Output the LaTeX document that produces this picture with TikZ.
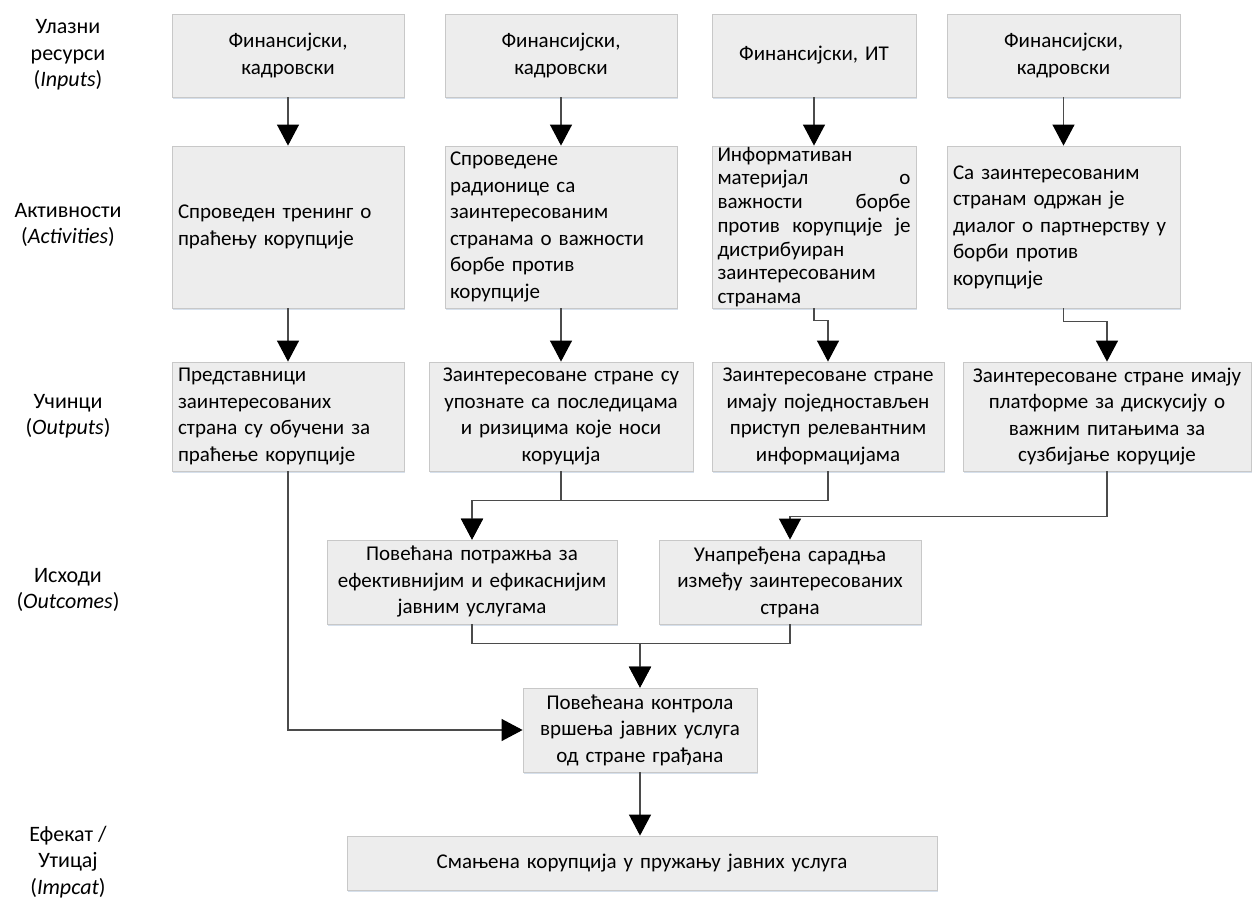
\documentclass[tikz,border=0pt]{standalone}
\usepackage{fontspec}
\setmainfont{Carlito}
\usetikzlibrary{arrows.meta,shadows}
\definecolor{boxfill}{RGB}{237,237,237}
\definecolor{boxline}{RGB}{200,200,200}
\definecolor{shadowcol}{RGB}{214,224,236}
\definecolor{conn}{RGB}{75,75,75}
\newcommand\bodyfont{\fontsize{21}{26.5}\selectfont}
\newcommand\labelfont{\fontsize{22}{26.5}\selectfont}
\newcommand\tightfont{\fontsize{21}{23.7}\selectfont}
\tikzset{
  box/.style={draw=boxline, fill=boxfill, line width=0.8pt, inner xsep=6pt, inner ysep=0pt,
    font=\bodyfont, drop shadow={shadow xshift=0.6pt, shadow yshift=-1.6pt, fill=shadowcol, opacity=1}},
  lbl/.style={align=center, font=\labelfont, inner sep=0pt},
  conn/.style={draw=conn, line width=1.1pt, -{Triangle[length=21pt,width=22pt,black]}},
}
\begin{document}
\begin{tikzpicture}[x=1pt,y=-1pt]
\useasboundingbox (0,0) rectangle (1254,902);

% row labels
\node[lbl] (l1) at (68,55) {Улазни\\ресурси\\(\textit{Inputs})};
\node[lbl] (l2) at (68,225) {Активности\\(\textit{Activities})};
\node[lbl] (l3) at (68,416) {Учинци\\(\textit{Outputs})};
\node[lbl] (l4) at (68,590) {Исходи\\(\textit{Outcomes})};
\node[lbl] (l5) at (68,862) {Ефекат /\\Утицај\\(\textit{Impcat})};

% inputs
\node[box, minimum width=232pt, minimum height=83pt, text width=220pt, align=center] (a1) at (288,55.5) {Финансијски,\\кадровски};
\node[box, minimum width=232pt, minimum height=83pt, text width=220pt, align=center] (a2) at (561,55.5) {Финансијски,\\кадровски};
\node[box, minimum width=204pt, minimum height=83pt, text width=192pt, align=center] (a3) at (814,55.5) {Финансијски, ИТ};
\node[box, minimum width=233pt, minimum height=83pt, text width=221pt, align=center] (a4) at (1063.5,55.5) {Финансијски,\\кадровски};

% activities
\node[box, minimum width=232pt, minimum height=162pt, text width=220pt, align=left] (b1) at (288,227) {Спроведен тренинг о\\праћењу корупције};
\node[box, minimum width=232pt, minimum height=162pt, text width=222pt, inner xsep=5pt, align=left] (b2) at (561,227) {Спроведене\\радионице са\\заинтересованим\\странама о важности\\борбе против\\корупције};
\node[box, minimum width=204pt, minimum height=162pt, text width=193pt, inner xsep=5.5pt, align=left, font=\tightfont] (b3) at (814,227) {Информативан\\материјал\hfill о\\важности\hfill борбе\\против\hfill корупције\hfill је\\дистрибуиран\\заинтересованим\\странама};
\node[box, minimum width=233pt, minimum height=162pt, text width=221pt, align=left] (b4) at (1063.5,227) {Са заинтересованим\\странам одржан је\\диалог о партнерству у\\борби против\\корупције};

% outputs
\node[box, minimum width=232pt, minimum height=109pt, text width=220pt, align=left] (c1) at (288,416.5) {Представници\\заинтересованих\\страна су обучени за\\праћење корупције};
\node[box, minimum width=264pt, minimum height=109pt, text width=252pt, align=center] (c2) at (561,416.5) {Заинтересоване стране су\\упознате са последицама\\и ризицима које носи\\коруција};
\node[box, minimum width=232pt, minimum height=109pt, text width=220pt, align=center] (c3) at (828,416.5) {Заинтересоване стране\\имају поједностављен\\приступ релевантним\\информацијама};
\node[box, minimum width=288pt, minimum height=109pt, text width=276pt, align=center] (c4) at (1107,416.5) {Заинтересоване стране имају\\платформе за дискусију о\\важним питањима за\\сузбијање коруције};

% outcomes
\node[box, minimum width=290pt, minimum height=84pt, text width=278pt, align=center] (d1) at (472,582) {Повећана потражња за\\ефективнијим и ефикаснијим\\јавним услугама};
\node[box, minimum width=262pt, minimum height=84pt, text width=250pt, align=center] (d2) at (790,582) {Унапређена сарадња\\између заинтересованих\\страна};

% control
\node[box, minimum width=234pt, minimum height=84pt, text width=222pt, align=center] (e) at (640,730) {Повећеана контрола\\вршења јавних услуга\\од стране грађана};

% impact
\node[box, minimum width=590pt, minimum height=54pt, text width=578pt, align=center] (f) at (642,863) {Смањена корупција у пружању јавних услуга};

% connectors
\draw[conn] (a1.south) -- (a1.south |- b1.north);
\draw[conn] (a2.south) -- (a2.south |- b2.north);
\draw[conn] (a3.south) -- (a3.south |- b3.north);
\draw[conn] (a4.south) -- (a4.south |- b4.north);

\draw[conn] (b1.south) -- (b1.south |- c1.north);
\draw[conn] (b2.south) -- (b2.south |- c2.north);
\draw[conn] (b3.south) -- ++(0,12) -| (c3.north);
\draw[conn] (b4.south) -- ++(0,13) -| (c4.north);

\draw[conn] (c2.south) -- ++(0,29) -| (d1.north);
\draw[conn] (c3.south) -- ++(0,29) -| (d1.north);
\draw[conn] (c4.south) -- ++(0,45) -| (d2.north);

\draw[conn] (d1.south) -- ++(0,19) -| (e.north);
\draw[conn] (d2.south) -- ++(0,19) -| (e.north);
\draw[conn] (c1.south) |- (e.west);

\draw[conn] (e.south) -- (e.south |- f.north);
\end{tikzpicture}
\end{document}
